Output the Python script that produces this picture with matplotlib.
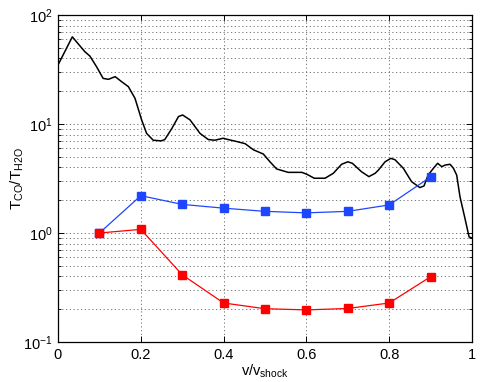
import matplotlib
matplotlib.use("Agg")
import matplotlib.pyplot as plt
from matplotlib.ticker import LogLocator, NullFormatter, FixedLocator

plt.rcParams['font.family'] = ['Liberation Sans', 'DejaVu Sans']
plt.rcParams['mathtext.fontset'] = 'custom'
plt.rcParams['mathtext.rm'] = 'Liberation Sans'
plt.rcParams['mathtext.it'] = 'Liberation Sans:italic'
plt.rcParams['mathtext.bf'] = 'Liberation Sans:bold'

# Black curve (continuous profile)
x_line = [0.0, 0.0346, 0.065, 0.077, 0.093, 0.109, 0.122, 0.138, 0.154, 0.170,
          0.186, 0.202, 0.214, 0.230, 0.249, 0.258, 0.275, 0.291, 0.301, 0.319,
          0.343, 0.363, 0.379, 0.399, 0.411, 0.432, 0.452, 0.472, 0.496, 0.512,
          0.528, 0.556, 0.589, 0.601, 0.619, 0.645, 0.665, 0.685, 0.700, 0.711,
          0.733, 0.751, 0.766, 0.774, 0.790, 0.804, 0.814, 0.834, 0.854, 0.874,
          0.884, 0.894, 0.907, 0.917, 0.927, 0.935, 0.947, 0.955, 0.963, 0.971,
          0.983, 0.993, 1.0]
y_line = [34.8, 63, 46, 42, 33.6, 26.2, 25.7, 27.2, 24.4, 22,
          17.2, 10.9, 8.2, 7.1, 7.0, 7.2, 9.1, 11.7, 12.1, 10.9,
          8.2, 7.2, 7.1, 7.4, 7.2, 6.9, 6.6, 5.8, 5.3, 4.5,
          3.87, 3.6, 3.6, 3.46, 3.18, 3.18, 3.53, 4.27, 4.5, 4.36,
          3.65, 3.29, 3.53, 3.78, 4.5, 4.84, 4.7, 3.93, 2.96, 2.61,
          2.7, 3.4, 3.93, 4.36, 4.06, 4.2, 4.27, 3.93, 3.4, 2.15,
          1.36, 0.92, 0.9]

# Marker series
x_pts = [0.1, 0.2, 0.3, 0.4, 0.5, 0.6, 0.7, 0.8, 0.9]
y_blue = [1.0, 2.2, 1.83, 1.69, 1.58, 1.53, 1.58, 1.81, 3.27]
y_red = [1.0, 1.08, 0.414, 0.228, 0.202, 0.197, 0.203, 0.228, 0.397]

x_ticks = [0, 0.2, 0.4, 0.6, 0.8, 1]
x_ticklabels = ['0', '0.2', '0.4', '0.6', '0.8', '1']

fig = plt.figure(figsize=(4.8, 3.82), dpi=100)
ax = fig.add_axes([58/480, 40/382, 414/480, 327/382])

ax.plot(x_line, y_line, color='black', lw=1.1)
ax.plot(x_pts, y_blue, color='#1e46ff', lw=0.9, marker='s', ms=6.3,
        markeredgecolor='#1e46ff', markerfacecolor='#1e46ff')
ax.plot(x_pts, y_red, color='#ff0000', lw=0.9, marker='s', ms=6.3,
        markeredgecolor='#ff0000', markerfacecolor='#ff0000')

ax.set_yscale('log')
ax.set_xlim(0, 1)
ax.set_ylim(0.1, 100)
ax.xaxis.set_major_locator(FixedLocator(x_ticks))
ax.set_xticklabels(x_ticklabels)
ax.yaxis.set_major_locator(LogLocator(base=10, numticks=10))
ax.yaxis.set_minor_locator(LogLocator(base=10, subs=range(2, 10), numticks=20))
ax.yaxis.set_minor_formatter(NullFormatter())

grid_style = dict(linestyle=(0, (1.5, 3)), color='0.4', lw=0.6)
ax.grid(True, which='major', axis='both', **grid_style)
ax.grid(True, which='minor', axis='y', **grid_style)
ax.set_axisbelow(True)

ax.tick_params(which='both', direction='in', top=True, right=True, labelsize=10.5)
ax.tick_params(which='major', length=4, width=0.7, pad=4)
ax.tick_params(which='minor', length=2, width=0.6)
for s in ax.spines.values():
    s.set_linewidth(0.9)

ax.set_xlabel(r'v/v$_{\rm shock}$', fontsize=10.5, labelpad=1)
ax.set_ylabel(r'T$_{\rm CO}$/T$_{\rm H2O}$', fontsize=11, labelpad=-2)

fig.savefig('out.png', dpi=100)
